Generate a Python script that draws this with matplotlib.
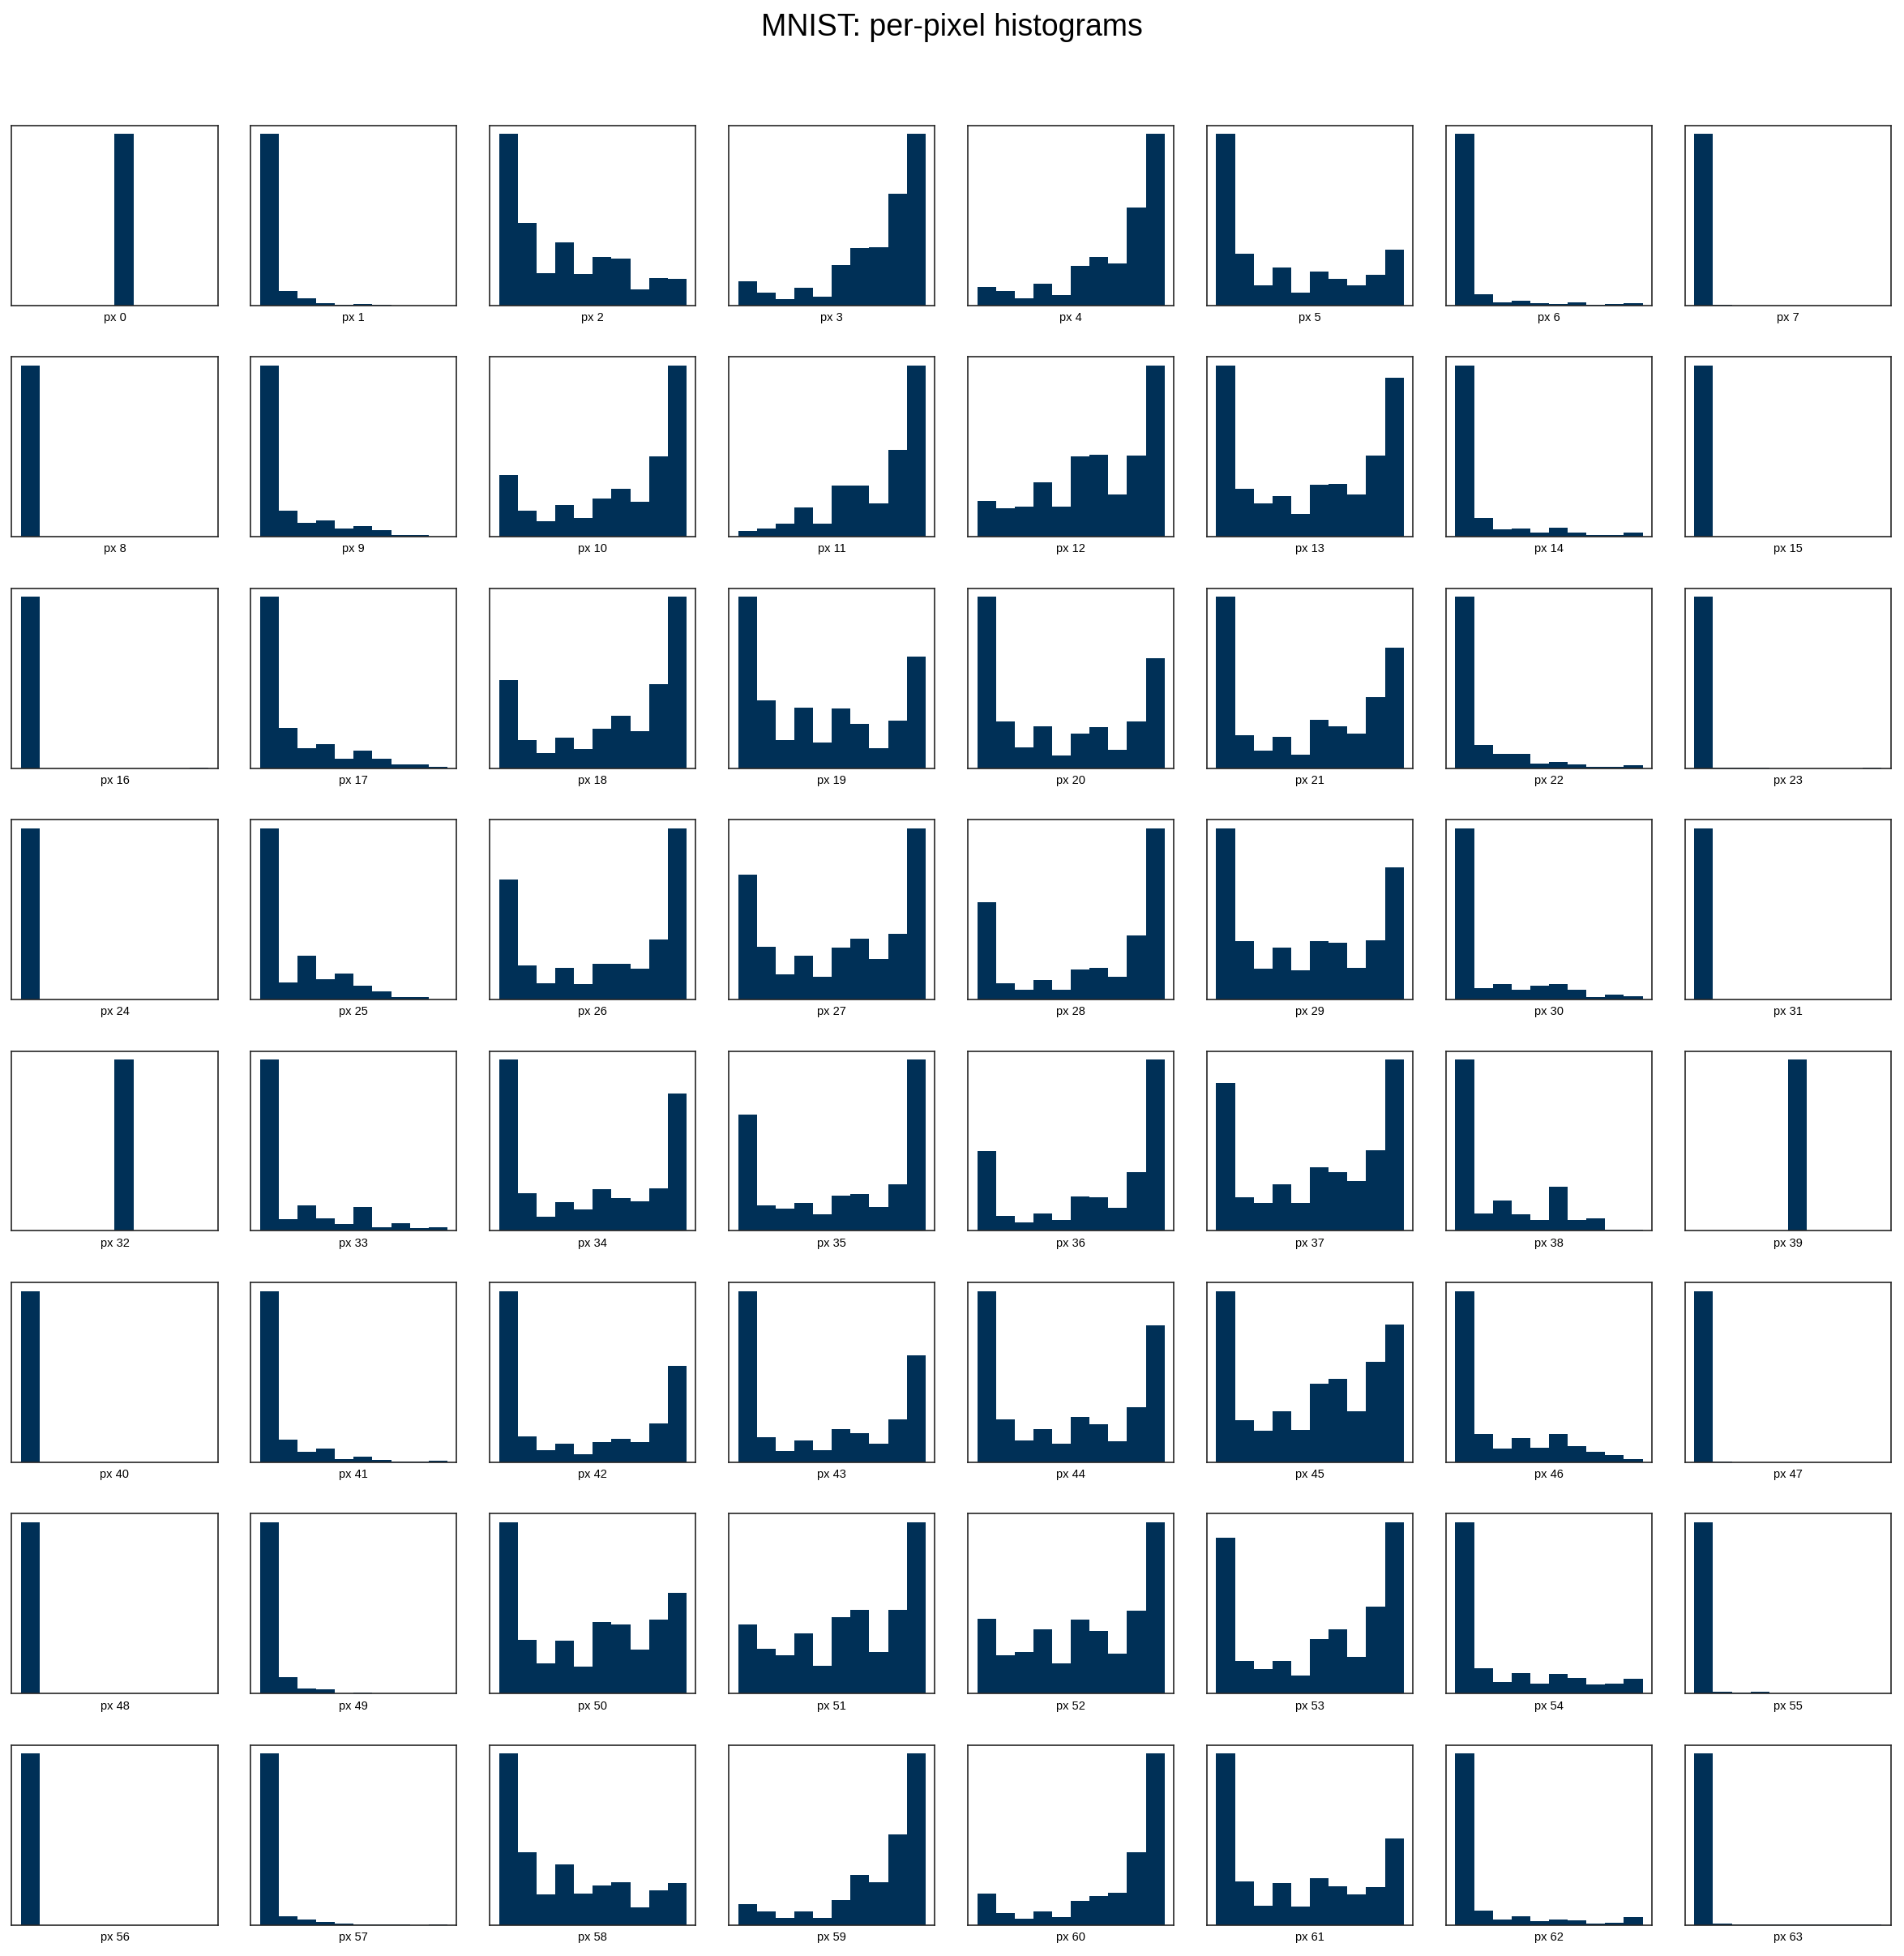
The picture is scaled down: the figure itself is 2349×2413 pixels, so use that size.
import numpy as np
import matplotlib
matplotlib.use("Agg")
import matplotlib.pyplot as plt

plt.rcParams['font.family'] = ['Liberation Sans', 'DejaVu Sans']

title = "MNIST: per-pixel histograms"
pixel_ids = list(range(64))
n_bins = 10

# Relative bin heights (tallest bin = 100), pixel by pixel
counts_row_0 = [
    [0, 0, 0, 0, 0, 100, 0, 0, 0, 0],
    [100, 8.2, 3.9, 1.4, 0.2, 1.0, 0.2, 0.05, 0.05, 0.05],
    [100, 48.0, 18.6, 36.5, 18.2, 28.4, 27.5, 9.5, 16.1, 15.6],
    [14.2, 7.6, 3.5, 10.4, 5.2, 23.7, 33.2, 34.1, 64.9, 100],
    [10.9, 8.2, 3.9, 12.8, 6.2, 23.2, 28.4, 24.6, 57.0, 100],
    [100, 29.9, 11.8, 22.0, 7.6, 19.9, 15.6, 11.8, 18.0, 32.7],
    [100, 6.6, 1.9, 2.8, 1.4, 0.9, 1.9, 0.5, 0.9, 1.4],
    [100, 0.2, 0.05, 0, 0, 0, 0, 0, 0, 0.05],
]
counts_row_1 = [
    [100, 0, 0, 0, 0, 0.1, 0, 0, 0, 0.1],
    [100, 15.2, 8.1, 9.5, 4.7, 6.2, 3.8, 0.9, 0.9, 0.2],
    [36.0, 15.2, 9.0, 18.5, 10.9, 22.3, 28.0, 20.4, 46.9, 100],
    [3.3, 4.7, 7.6, 17.1, 7.6, 29.9, 29.9, 19.4, 50.7, 100],
    [20.9, 16.6, 17.5, 31.8, 17.5, 46.9, 47.9, 24.6, 47.4, 100],
    [100, 28.0, 19.4, 23.7, 13.3, 30.5, 30.8, 24.6, 47.4, 92.9],
    [100, 10.9, 4.3, 4.7, 2.4, 5.2, 2.4, 0.9, 0.9, 2.4],
    [100, 0.2, 0.1, 0.05, 0.1, 0.1, 0.1, 0.1, 0.1, 0.1],
]
counts_row_2 = [
    [100, 0, 0, 0, 0, 0, 0, 0, 0, 0.05],
    [100, 23.5, 11.7, 14.0, 5.5, 10.2, 5.5, 2.2, 2.2, 0.8],
    [51.3, 16.4, 8.8, 17.8, 11.2, 23.0, 30.6, 21.6, 49.0, 100],
    [100, 39.5, 16.4, 35.3, 15.0, 34.8, 25.8, 11.7, 27.7, 65.0],
    [100, 27.2, 12.1, 24.4, 7.4, 20.2, 23.9, 10.7, 27.2, 64.1],
    [100, 19.2, 10.2, 18.3, 7.9, 28.2, 24.4, 20.2, 41.4, 70.2],
    [100, 13.5, 8.3, 8.3, 2.7, 3.6, 2.2, 0.8, 0.8, 1.7],
    [100, 0.3, 0.05, 0.3, 0, 0, 0, 0, 0, 0.05],
]
counts_row_3 = [
    [100, 0, 0, 0, 0, 0, 0, 0, 0, 0.1],
    [100, 10.0, 25.6, 11.8, 15.2, 8.1, 4.7, 1.4, 1.4, 0.2],
    [70.1, 19.9, 9.5, 18.5, 9.0, 20.9, 20.9, 18.0, 35.1, 100],
    [73.0, 30.8, 14.7, 25.6, 13.3, 30.3, 35.5, 23.7, 38.4, 100],
    [56.9, 9.5, 5.7, 11.4, 5.7, 17.5, 18.5, 13.3, 37.4, 100],
    [100, 34.1, 18.0, 30.3, 17.1, 34.1, 33.2, 18.5, 34.6, 77.3],
    [100, 6.6, 9.0, 5.7, 8.1, 9.0, 5.7, 1.4, 2.8, 1.9],
    [100, 0, 0, 0, 0, 0, 0, 0, 0, 0.1],
]
counts_row_4 = [
    [0, 0, 0, 0, 0, 100, 0, 0, 0, 0],
    [100, 6.9, 15.0, 7.4, 4.1, 14.0, 2.2, 4.6, 1.7, 2.2],
    [100, 22.0, 8.3, 16.9, 12.6, 24.4, 19.2, 17.3, 24.9, 80.2],
    [67.9, 15.0, 13.1, 16.4, 9.8, 20.6, 21.6, 14.0, 27.2, 100],
    [46.6, 8.8, 5.0, 10.2, 6.5, 20.2, 19.7, 13.5, 34.3, 100],
    [86.3, 19.7, 16.4, 27.2, 16.4, 37.2, 34.3, 29.1, 47.1, 100],
    [100, 10.2, 17.8, 9.8, 6.5, 25.8, 6.5, 7.4, 0.8, 0.8],
    [0, 0, 0, 0, 0, 100, 0, 0, 0, 0],
]
counts_row_5 = [
    [100, 0, 0.2, 0, 0, 0.2, 0, 0, 0, 0.05],
    [100, 13.3, 6.2, 8.1, 1.9, 3.3, 1.4, 0.5, 0.5, 0.9],
    [100, 15.2, 7.1, 10.9, 4.7, 11.8, 13.7, 11.8, 22.7, 56.4],
    [100, 14.7, 6.6, 12.8, 7.1, 19.4, 17.1, 10.9, 25.1, 62.6],
    [100, 25.1, 12.8, 19.4, 10.9, 26.5, 22.3, 12.3, 32.2, 80.1],
    [100, 24.6, 18.5, 29.9, 19.0, 46.0, 48.8, 29.9, 58.8, 80.6],
    [100, 16.6, 8.1, 14.2, 8.5, 16.6, 9.5, 6.2, 4.3, 1.9],
    [100, 0.5, 0.05, 0.2, 0.05, 0.2, 0.2, 0.05, 0.05, 0.2],
]
counts_row_6 = [
    [100, 0, 0, 0, 0, 0, 0, 0, 0, 0.05],
    [100, 9.8, 3.1, 2.7, 0.3, 0.8, 0.2, 0.05, 0.05, 0.05],
    [100, 31.5, 17.8, 31.0, 15.9, 41.9, 40.5, 25.8, 43.3, 58.9],
    [40.5, 26.3, 22.5, 35.3, 16.4, 44.7, 49.0, 24.4, 49.0, 100],
    [43.8, 22.5, 24.4, 37.6, 17.8, 43.3, 36.7, 23.5, 48.5, 100],
    [91.0, 19.2, 14.5, 19.2, 10.7, 32.0, 37.6, 21.6, 50.9, 100],
    [100, 15.0, 6.9, 12.1, 6.0, 11.7, 9.3, 5.5, 6.0, 8.8],
    [100, 1.3, 0.8, 1.3, 0.3, 0.05, 0, 0, 0, 0.05],
]
counts_row_7 = [
    [100, 0, 0, 0, 0, 0, 0, 0, 0, 0.05],
    [100, 5.2, 3.3, 1.9, 0.9, 0.5, 0.2, 0.2, 0.05, 0.2],
    [100, 42.7, 18.0, 35.5, 18.5, 23.2, 25.1, 10.4, 20.4, 24.6],
    [12.3, 8.1, 4.3, 8.1, 4.3, 14.7, 29.4, 25.1, 53.1, 100],
    [18.5, 7.1, 3.8, 8.1, 4.7, 14.2, 17.1, 19.0, 42.7, 100],
    [100, 25.6, 11.4, 24.6, 10.9, 27.5, 22.7, 18.0, 22.3, 50.7],
    [100, 8.5, 3.3, 5.2, 2.4, 3.3, 2.8, 0.9, 1.4, 4.7],
    [100, 0.9, 0.2, 0.5, 0.2, 0.5, 0.2, 0.2, 0.2, 0.5],
]

all_rows = [counts_row_0, counts_row_1, counts_row_2, counts_row_3,
            counts_row_4, counts_row_5, counts_row_6, counts_row_7]

bar_color = "#003057"
spine_color = "#262626"

fig, axes = plt.subplots(8, 8, figsize=(2349 / 150, 2413 / 150), dpi=150)
fig.subplots_adjust(left=0.0061, right=0.9932, top=0.9359, bottom=0.0158,
                    wspace=0.16, hspace=0.286)

for r, row in enumerate(all_rows):
    for c, heights in enumerate(row):
        ax = axes[r, c]
        idx = r * 8 + c
        ax.bar(np.arange(n_bins), heights, width=1.0, align='edge',
               color=bar_color, linewidth=0)
        ax.set_xticks([])
        ax.set_yticks([])
        ax.set_xlabel(f"px {pixel_ids[idx]}", fontsize=7, labelpad=4)
        for s in ax.spines.values():
            s.set_color(spine_color)
            s.set_linewidth(0.8)

fig.suptitle(title, fontsize=18, y=0.9935)
fig.savefig("out.png", dpi=150)
